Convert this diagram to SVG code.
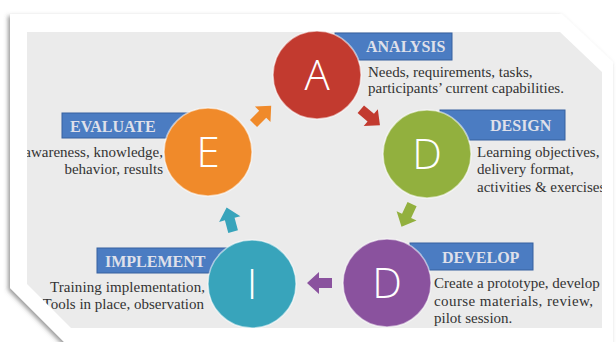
<svg xmlns="http://www.w3.org/2000/svg" width="616" height="342" viewBox="0 0 616 342">
  <defs>
    <filter id="sh" x="-10%" y="-10%" width="120%" height="120%">
      <feDropShadow dx="-2" dy="2" stdDeviation="2" flood-color="#555" flood-opacity="0.6"/>
    </filter>
    <clipPath id="panelClip">
      <polygon points="27,32 560,32 602,72 602,328 71,328 27,284"/>
    </clipPath>
    <polygon id="arr" points="-12,-5 1,-5 1,-11 13,0 1,11 1,5 -12,5"/>
  </defs>
  <style>
    .box { fill: #4b7cc2; stroke: #36609f; stroke-width: 1; }
    .lbl { font-family: "Liberation Serif", "Times New Roman", serif; font-weight: bold; font-size: 16px; fill: #dfe0ea; }
    .desc { font-family: "Liberation Serif", "Times New Roman", serif; font-size: 15px; fill: #333333; }
    .ring { stroke: #ffffff; stroke-opacity: 0.55; stroke-width: 1.5; }
    .let { font-family: "Open Sans", "DejaVu Sans", sans-serif; font-weight: 300; font-size: 42px; fill: #ffffff; text-anchor: middle; }
  </style>
  <rect width="616" height="342" fill="#ffffff"/>
  <polygon points="10,14 562,14 613,62 613,350 72,350 10,288" fill="#ffffff" filter="url(#sh)"/>
  <polygon points="27,32 560,32 602,72 602,328 71,328 27,284" fill="#ebebeb"/>

  <g id="node-analysis">
    <rect class="box" x="335" y="33" width="117" height="27"/>
    <circle class="ring" cx="317" cy="75" r="44" fill="#c23a2f"/>
    <text class="let" x="317" y="90">A</text>
    <text class="lbl" x="366" y="52">ANALYSIS</text>
    <text class="desc" x="368" y="77">Needs, requirements, tasks,</text>
    <text class="desc" x="368" y="93">participants’ current capabilities.</text>
  </g>

  <g id="node-design">
    <rect class="box" x="440" y="110" width="125" height="30"/>
    <circle class="ring" cx="427" cy="154" r="44" fill="#92b03e"/>
    <text class="let" x="427" y="169">D</text>
    <text class="lbl" x="490" y="131">DESIGN</text>
    <g clip-path="url(#panelClip)">
      <text class="desc" x="477" y="157">Learning objectives,</text>
      <text class="desc" x="477" y="174">delivery format,</text>
      <text class="desc" x="477" y="192">activities &amp; exercises</text>
    </g>
  </g>

  <g id="node-develop">
    <rect class="box" x="410" y="243" width="123" height="27"/>
    <circle class="ring" cx="387" cy="283" r="44" fill="#8a529e"/>
    <text class="let" x="387" y="298">D</text>
    <text class="lbl" x="442" y="263">DEVELOP</text>
    <text class="desc" x="434" y="288">Create a prototype, develop</text>
    <text class="desc" x="434" y="306" textLength="159" lengthAdjust="spacing">course materials, review,</text>
    <text class="desc" x="434" y="323">pilot session.</text>
  </g>

  <g id="node-implement">
    <rect class="box" x="97" y="248" width="130" height="25"/>
    <circle class="ring" cx="252" cy="284" r="44" fill="#38a4bb"/>
    <text class="let" x="252" y="299">I</text>
    <text class="lbl" x="105" y="267">IMPLEMENT</text>
    <g clip-path="url(#panelClip)">
      <text class="desc" x="50" y="292" textLength="155" lengthAdjust="spacing">Training implementation,</text>
      <text class="desc" x="204" y="309" text-anchor="end">Tools in place, observation</text>
    </g>
  </g>

  <g id="node-evaluate">
    <rect class="box" x="62" y="113" width="135" height="25"/>
    <circle class="ring" cx="208" cy="152" r="44" fill="#f08a2a"/>
    <text class="let" x="208" y="167">E</text>
    <text class="lbl" x="70" y="132">EVALUATE</text>
    <g clip-path="url(#panelClip)">
      <text class="desc" x="163" y="157" text-anchor="end">awareness, knowledge,</text>
      <text class="desc" x="163" y="174" text-anchor="end">behavior, results</text>
    </g>
  </g>

  <g id="connectors">
    <use href="#arr" fill="#f08a2a" transform="translate(262,115) rotate(-45)"/>
    <use href="#arr" fill="#c23a2f" transform="translate(370,117) rotate(40)"/>
    <use href="#arr" fill="#92b03e" transform="translate(407,215) rotate(115)"/>
    <use href="#arr" fill="#8a529e" transform="translate(320,283) rotate(180)"/>
    <use href="#arr" fill="#38a4bb" transform="translate(230,220) rotate(-105)"/>
  </g>
</svg>
